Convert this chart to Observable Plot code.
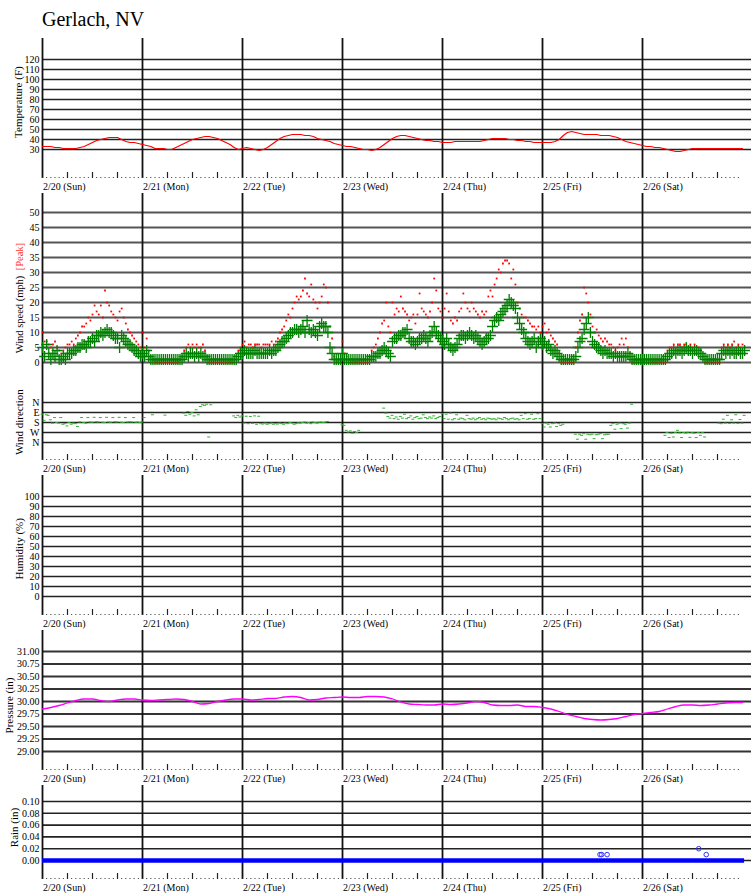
<!DOCTYPE html>
<html><head><meta charset="utf-8">
<script src="https://cdn.jsdelivr.net/npm/d3@7"></script>
<script src="https://cdn.jsdelivr.net/npm/@observablehq/plot@0.6"></script>
<style>
body{margin:0;background:#fff;}
#chart{position:relative;width:751px;}
#title{position:absolute;left:42px;top:9px;font:20px/20px "Liberation Serif",serif;color:#000;}
#chart svg{display:block;}
</style></head><body>
<div id="chart"><div id="title">Gerlach, NV</div><div style="height:35px"></div></div>
<script>
// ---- categories / labels ----
const dayLabels = ["2/20 (Sun)","2/21 (Mon)","2/22 (Tue)","2/23 (Wed)","2/24 (Thu)","2/25 (Fri)","2/26 (Sat)"];
const dayStartHours = [0,24,48,72,96,120,144];
const tempTicks = [30,40,50,60,70,80,90,100,110,120];
const windTicks = [0,5,10,15,20,25,30,35,40,45,50];
const dirTicks = [0,90,180,270,360];
const dirLabels = ["N","E","S","W","N"];
const humTicks = [0,10,20,30,40,50,60,70,80,90,100];
const presTicks = [29.00,29.25,29.50,29.75,30.00,30.25,30.50,30.75,31.00];
const rainTicks = [0.00,0.02,0.04,0.06,0.08,0.10];

// ---- temperature (F), hourly from 2/20 00:00 ----
const temperature = [
33,33,33,32,32,31,31,31,31,32,33,35,37,39,40,41,42,42,42,40,38,37,37,36,
35,34,33,31,31,31,30,30,32,34,36,38,40,41,42,43,43,42,41,39,37,35,32,30,
31,32,31,30,29,30,32,35,38,41,43,44,45,45,45,44,44,43,41,40,39,38,36,35,
34,33,33,32,31,30,30,29,30,32,35,38,41,43,44,44,43,42,41,40,39,39,38,38,
37,37,37,38,38,38,38,38,38,38,39,40,41,41,41,41,40,40,39,39,38,38,37,37,
37,37,37,38,40,44,47,48,47,46,45,45,45,45,44,44,44,43,42,40,38,37,36,35,
34,33,33,32,32,31,30,29,28,28,29,30,31,31,31,31,31,31,31,31,31,31,31,31,
31];

// ---- wind speed (mph), every 30 min ----
const windAvg = [
5,2,6,3, 1,3,2,4, 1,1,2,1, 3,3,3,4, 4,5,5,6, 6,5,7,7, 8,7,9,9, 10,9,10,11, 10,10,9,8, 8,5,9,8, 7,6,6,5, 4,4,3,2,
3,2,4,2, 1,1,1,1, 1,1,1,1, 1,1,1,1, 1,1,1,1, 2,3,2,3, 3,2,3,2, 3,2,2,1, 1,1,1,1, 1,1,1,1, 1,1,1,1, 1,1,2,3,
3,4,3,3, 3,3,4,3, 3,3,3,3, 3,4,3,4, 4,5,6,7, 7,8,9,10, 10,11,11,10, 11,12,10,14, 11,10,11,10, 9,12,13,12, 12,10,5,3, 1,1,1,1,
3,1,1,1, 1,1,1,1, 1,1,1,1, 1,1,2,2, 2,3,3,4, 5,4,3,2, 7,8,8,9, 9,10,10,11, 8,7,7,6, 7,8,8,9, 8,7,9,10, 12,10,9,8,
7,6,8,6, 5,4,5,6, 8,9,9,8, 9,10,9,8, 9,8,7,6, 7,8,8,9, 12,14,15,14, 16,17,18,19, 21,20,19,18, 15,13,11,10, 8,7,6,7, 8,5,7,8,
6,7,5,6, 4,3,4,3, 2,1,1,1, 1,1,1,1, 2,5,7,8, 11,13,15,10, 7,6,5,5, 4,3,4,3, 3,3,2,3, 2,2,2,2, 2,3,2,1, 1,1,1,1,
1,1,1,1, 1,1,1,1, 1,1,1,1, 2,3,3,4, 3,4,4,3, 4,5,4,4, 3,4,4,3, 3,2,1,1, 1,1,1,1, 1,1,3,4, 3,4,3,4, 3,3,4,3,
3,4];
const windPeak = [
10,7,7,6, 5,6,7,5, 4,3,4,5, 6,6,7,6, 8,9,10,12, 12,13,15,14, 16,19,17,16, 19,15,24,20, 19,17,16,15, 14,17,18,15, 13,11,10,9, 8,7,6,5,
10,5,8,4, 2,1,0,0, 0,0,0,0, 0,0,0,0, 0,0,1,2, 4,5,6,5, 6,5,6,5, 5,6,4,2, 0,0,0,0, 0,0,0,0, 0,0,0,0, 0,2,4,5,
6,7,5,6, 6,5,6,6, 6,5,6,6, 6,6,7,6, 7,8,10,11, 12,14,16,15, 18,20,22,21, 22,24,28,23, 22,26,21,20, 18,20,22,26, 25,20,12,8, 2,0,0,0,
7,3,2,0, 0,0,0,0, 0,0,0,0, 0,1,4,5, 6,8,10,13, 14,20,12,10, 20,16,18,17, 22,18,17,16, 14,15,16,13, 16,23,18,17, 16,15,17,20, 28,24,18,17,
15,18,23,17, 14,13,15,14, 17,18,23,20, 18,17,20,18, 17,16,15,17, 16,17,22,24, 22,26,28,31, 30,33,34,34, 33,28,31,26, 20,18,16,15, 15,14,13,12, 12,11,12,10,
12,13,10,11, 9,8,7,6, 3,0,0,0, 0,0,0,0, 5,10,14,16, 25,23,20,16, 12,10,11,9, 8,7,8,7, 6,6,5,4, 5,6,8,6, 8,5,3,0, 0,0,0,0,
0,0,0,0, 0,0,0,0, 0,0,0,0, 4,5,5,6, 5,6,6,5, 6,6,5,6, 5,6,5,5, 4,2,0,0, 0,0,0,0, 0,0,5,6, 5,6,5,6, 7,5,6,5,
6,5];

// ---- wind direction (degrees), every 30 min, null = calm ----
const windDir = [
110,165,115,120, 160,190,140,185, 190,140,200,195, 215,185,200,190, 195,220,180,140, 185,190,140,180, 182,138,178,180, 140,182,185,138, 180,182,140,178, 180,138,182,185, 140,180,178,180, 140,182,180,185,
180,140,null,null, null,115,null,null, null,null,null,118, null,null,null,null, null,null,null,null, 100,120,85,110, 95,125,70,115, 40,25,30,20, 315,25,null,null, null,null,null,null, null,null,null,null, 125,140,120,135,
125,190,128,195, 130,192,125,200, 128,195,198,190, 200,195,190,200, 195,198,190,195, 200,190,195,185, 190,200,195,188, 190,185,180,190, 185,195,180,185, 190,182,180,185, 180,175,null,null, null,null,null,null,
205,210,255,270, 260,280,265,275, 255,null,null,null, null,null,null,null, null,null,null,null, 55,100,130,145, 120,150,135,155, 130,145,110,150, 140,125,155,140, 130,150,145,115, 140,150,135,145, 125,150,140,130,
105,150,110,155, 100,160,150,115, 155,145,150,160, 120,150,155,145, 160,150,140,155, 150,160,145,150, 155,150,160,145, 150,155,140,150, 160,150,145,155, 150,160,120,150, 105,155,150,110, 155,150,105,150,
195,225,190,200, 225,195,190,220, 195,210,200,null, null,null,null,null, 290,335,290,300, 285,335,290,295, 290,330,295,290, 285,330,295,290, 290,210,195,245, 200,190,240,195, 200,235,190,20, null,null,null,null,
null,null,null,null, null,null,null,null, null,null,null,300, 275,320,280,315, 275,255,278,320, 275,280,272,318, 276,280,320,275, 300,276,315,null, null,null,null,null, null,190,195,155, 190,120,192,160, 190,115,192,158,
190,120];

// ---- pressure (in), every 2 hours ----
const pressure = [
29.85,29.88,29.92,29.97,30.02,30.05,30.05,30.02,30.00,30.03,30.05,30.05,
30.03,30.02,30.03,30.04,30.05,30.04,30.00,29.95,29.96,30.00,30.03,30.05,
30.05,30.03,30.04,30.06,30.06,30.09,30.10,30.08,30.03,30.04,30.07,30.08,
30.09,30.08,30.08,30.10,30.10,30.09,30.05,29.99,29.95,29.94,29.93,29.93,
29.95,29.94,29.95,29.97,30.00,29.98,29.93,29.92,29.92,29.93,29.90,29.90,
29.88,29.85,29.80,29.74,29.70,29.66,29.64,29.63,29.64,29.66,29.70,29.74,
29.76,29.78,29.80,29.85,29.90,29.93,29.93,29.92,29.93,29.95,29.97,29.98,
29.98];

// ---- rain (in) ----
const rainHours = [133.8,134.2,135.5,157.5,159.3];
const rainValues = [0.01,0.01,0.01,0.02,0.01];

// ---------------------------------------------------------------
const W = 751, ML = 42;
const xDomain = [0, (W - ML) * 24 / 100];
const lastHour = (windAvg.length - 1) * 0.5;
const hourMarks = d3.range(0, 168);
const quarterMarks = d3.range(0, 168, 6).filter(h => h % 24 !== 0);
const FONT = "'Liberation Serif', 'Times New Roman', serif";

function panel({height, mt = 0, mb = 0, domain, reverse = false, ticks, fmt, grid = "#222", gridW = 1.6,
                tickRow = false, labels = false, titles = [], marks = []}) {
  const ph = height - mt - mb;
  const m = [
    Plot.ruleY(ticks, {stroke: grid, strokeWidth: gridW}),
    Plot.ruleX(dayStartHours, {stroke: "#111", strokeWidth: 1.8})
  ];
  if (tickRow) {
    m.push(Plot.ruleX(hourMarks, {stroke: "#333", strokeWidth: 1, insetTop: ph - 1}));
    m.push(Plot.ruleX(quarterMarks, {stroke: "#222", strokeWidth: 1.2, insetTop: ph - 6}));
  }
  if (labels) {
    m.push(Plot.text(dayLabels, {x: (d, i) => dayStartHours[i], text: d => d, frameAnchor: "bottom",
      textAnchor: "start", lineAnchor: "middle", dy: 8.3, dx: 0.5, fontSize: 10, fill: "#000"}));
  }
  m.push(Plot.axisY({ticks, tickSize: 0, tickPadding: 3, tickFormat: fmt, label: null, fontSize: 10}));
  for (const t of titles) {
    m.push(Plot.text([t.text], {frameAnchor: "left", y: () => t.y, dx: t.dx, rotate: -90,
      textAnchor: "middle", lineAnchor: "middle", fontSize: t.size || 11, fill: t.color || "#000"}));
  }
  m.push(...marks);
  return Plot.plot({
    width: W, height, marginLeft: ML, marginRight: 0, marginTop: mt, marginBottom: mb,
    style: {fontFamily: FONT, fontSize: "10px", background: "#fff", color: "#000", overflow: "visible"},
    x: {domain: xDomain, axis: null},
    y: {domain, reverse, axis: null},
    marks: m
  });
}

const chart = document.getElementById("chart");

// Temperature
chart.appendChild(panel({
  height: 158, mt: 3, mb: 15, domain: [1, 141], ticks: tempTicks, fmt: d => d,
  tickRow: true, labels: true,
  titles: [{text: "Temperature (F)", y: 77.4, dx: -23.7}],
  marks: [Plot.line(temperature, {x: (d, i) => i, y: d => d, stroke: "#f00", strokeWidth: 1.2})]
}));

// Wind speed
chart.appendChild(panel({
  height: 187, domain: [-6, 56.333], ticks: windTicks, fmt: d => d, grid: "#555", gridW: 2,
  titles: [{text: "Wind speed (mph)", y: 16, dx: -23.2, size: 10.5},
           {text: "[Peak]", y: 35.3, dx: -23.2, color: "#f33", size: 10.5}],
  marks: [
    Plot.dot(windPeak, {x: (d, i) => i * 0.5, y: d => d, r: 1, symbol: "square", fill: "#f00", stroke: null}),
    Plot.dot(windAvg, {x: (d, i) => i * 0.5, y: d => d, r: 3.6, symbol: "plus", stroke: "#008000", strokeWidth: 1.3})
  ]
}));

// Wind direction
const dirData = windDir.map((d, i) => ({h: i * 0.5, deg: d})).filter(d => d.deg != null);
chart.appendChild(panel({
  height: 95, mb: 15, domain: [-198, 522], reverse: true, ticks: dirTicks, fmt: (d, i) => dirLabels[i],
  tickRow: true, labels: true,
  titles: [{text: "Wind direction", y: 177, dx: -23.2}],
  marks: [Plot.rect(dirData, {x1: d => d.h - 0.35, x2: d => d.h + 0.35, y1: d => d.deg - 4.5, y2: d => d.deg + 4.5, fill: "#33b033"})]
}));

// Humidity
chart.appendChild(panel({
  height: 155, mb: 15, domain: [-19, 121], ticks: humTicks, fmt: d => d,
  tickRow: true, labels: true,
  titles: [{text: "Humidity (%)", y: 47.7, dx: -23.2}]
}));

// Pressure
chart.appendChild(panel({
  height: 155, mb: 15, domain: [28.62, 31.42], ticks: presTicks, fmt: d => d.toFixed(2), grid: "#333", gridW: 1.8,
  tickRow: true, labels: true,
  titles: [{text: "Pressure (in)", y: 29.92, dx: -33.2}],
  marks: [Plot.line(pressure, {x: (d, i) => i * 2, y: d => d, stroke: "#f0f", strokeWidth: 1.3, curve: "monotone-x"})]
}));

// Rain
chart.appendChild(panel({
  height: 110, mb: 16, domain: [-0.0322, 0.12712], ticks: rainTicks, fmt: d => d.toFixed(2),
  tickRow: true, labels: true,
  titles: [{text: "Rain (in)", y: 0.056, dx: -28.2}],
  marks: [
    Plot.ruleY([0], {x1: 0, x2: lastHour, stroke: "#00f", strokeWidth: 4.5}),
    Plot.dot(rainValues, {x: (d, i) => rainHours[i], y: d => d, r: 2.3, stroke: "#33f", strokeWidth: 1, fill: "none"})
  ]
}));
</script>
</body></html>
